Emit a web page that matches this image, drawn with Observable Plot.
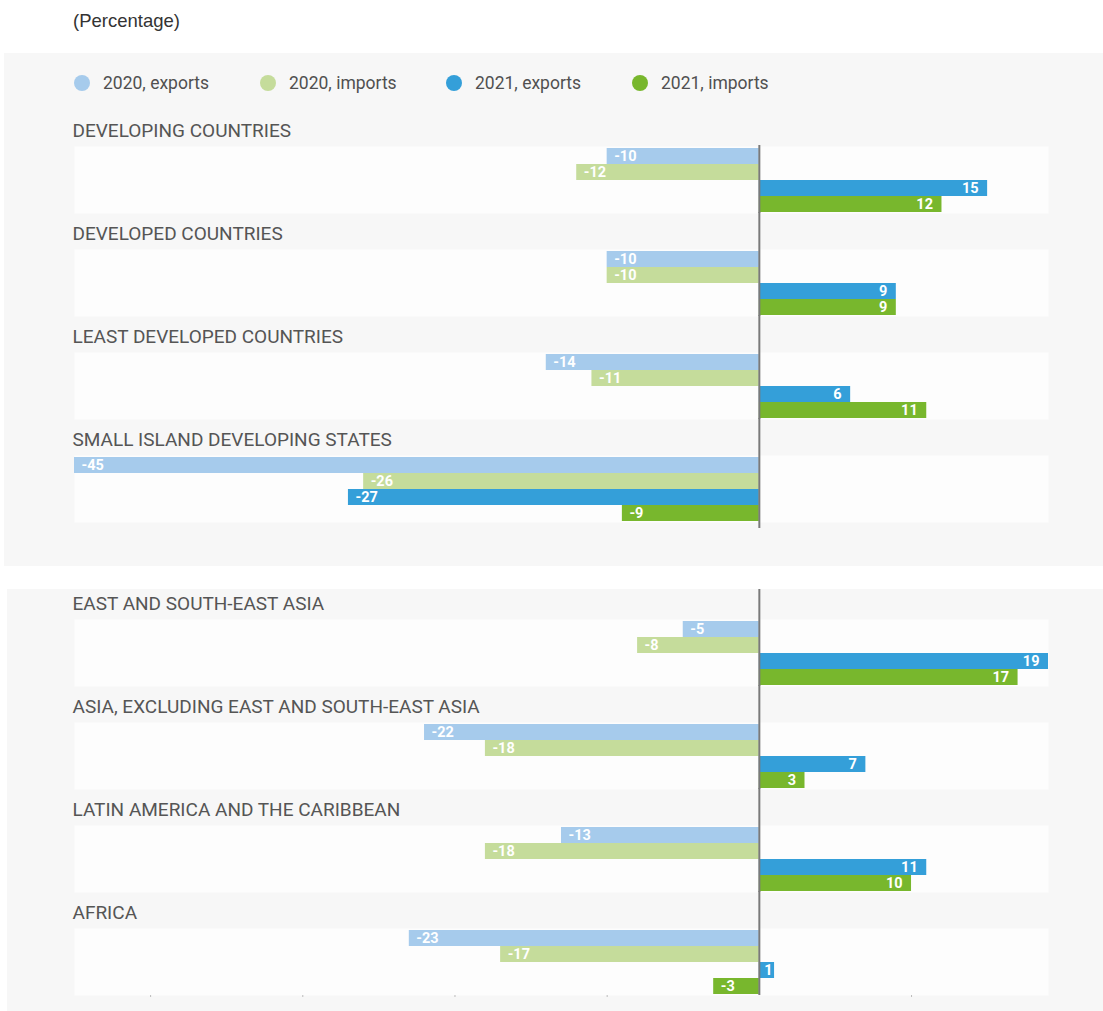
<!DOCTYPE html>
<html>
<head>
<meta charset="utf-8">
<script src="https://cdn.jsdelivr.net/npm/d3@7"></script>
<script src="https://cdn.jsdelivr.net/npm/@observablehq/plot@0.6"></script>
<style>
  body { margin: 0; background: #fff; }
  #root { position: relative; width: 1103px; height: 1011px; overflow: hidden; font-family: Roboto, sans-serif; }
  .panel { position: absolute; background: #f7f7f7; }
  .unit { position: absolute; left: 73px; top: 10px; font-family: "Liberation Sans", Arial, sans-serif; font-size: 18.5px; color: #333; }
  .legend-item { position: absolute; top: 72px; height: 22px; display: flex; align-items: center; font-size: 17.5px; color: #505050; white-space: nowrap; }
  .legend-item .dot { width: 16px; height: 16px; border-radius: 50%; margin-right: 13px; }
  .plotwrap { position: absolute; left: 0; }
</style>
</head>
<body>
<div id="root">
  <div class="panel" style="left:4px;top:53px;width:1099px;height:513px;"></div>
  <div class="panel" style="left:7px;top:589px;width:1096px;height:422px;"></div>
  <div class="unit">(Percentage)</div>
</div>
<script>
// Series (legend) and colours
const series = ["2020, exports", "2020, imports", "2021, exports", "2021, imports"];
const seriesColors = ["#a6cbec", "#c5dc9b", "#349fd9", "#78b72d"];

// Panel A: country groups
const groupsA = ["DEVELOPING COUNTRIES", "DEVELOPED COUNTRIES", "LEAST DEVELOPED COUNTRIES", "SMALL ISLAND DEVELOPING STATES"];
const exports2020A = [-10, -10, -14, -45];
const imports2020A = [-12, -10, -11, -26];
const exports2021A = [15, 9, 6, -27];
const imports2021A = [12, 9, 11, -9];

// Panel B: regions
const groupsB = ["EAST AND SOUTH-EAST ASIA", "ASIA, EXCLUDING EAST AND SOUTH-EAST ASIA", "LATIN AMERICA AND THE CARIBBEAN", "AFRICA"];
const exports2020B = [-5, -22, -13, -23];
const imports2020B = [-8, -18, -18, -17];
const exports2021B = [19, 7, 11, 1];
const imports2021B = [17, 3, 10, -3];

// Axis
const xDomain = [-45, 19];
const xTicks = [-40, -30, -20, -10, 10];

function rowsOf(groups, cols) {
  const rows = [];
  groups.forEach((g, i) => {
    cols.forEach((col, j) => rows.push({group: g, series: series[j], value: col[i]}));
  });
  return rows;
}

const root = document.getElementById("root");

// Legend
series.forEach((s, i) => {
  const item = document.createElement("div");
  item.className = "legend-item";
  item.style.left = (74 + i * 186) + "px";
  const dot = document.createElement("span");
  dot.className = "dot";
  dot.style.background = seriesColors[i];
  const lab = document.createElement("span");
  lab.textContent = s;
  item.appendChild(dot);
  item.appendChild(lab);
  root.appendChild(item);
});

function makePanel(groups, cols, cfg) {
  const rows = rowsOf(groups, cols);
  const first = groups[0], last = groups[groups.length - 1];
  const middle = groups.slice(1, -1);
  const big = rows.filter(d => d.value >= 2);
  const tiny = rows.filter(d => d.value >= 0 && d.value < 2);
  const labelStyle = {fill: "white", fontWeight: "bold", fontSize: 14.5};
  const marks = [
    Plot.frame({fill: "#fdfdfd", stroke: "none"}),
    Plot.barX(rows, {x: "value", y: "series", fy: "group", fill: "series"}),
    Plot.text(rows.filter(d => d.value < 0), {
      x: "value", y: "series", fy: "group", text: d => String(d.value),
      textAnchor: "start", dx: 7, ...labelStyle
    }),
    Plot.text(big, {
      x: "value", y: "series", fy: "group", text: d => String(d.value),
      textAnchor: "end", dx: -9, ...labelStyle
    }),
    Plot.text(tiny, {
      x: "value", y: "series", fy: "group", text: d => String(d.value),
      textAnchor: "end", dx: -2, ...labelStyle
    }),
    Plot.text(groups, {
      fy: d => d, text: d => d, frameAnchor: "top-left", textAnchor: "start",
      lineAnchor: "bottom", dy: -10, dx: -2, fill: "#555", fontSize: 19
    }),
    Plot.ruleX([first], {x: () => 0, fy: d => d, stroke: "#7a7a7a", strokeWidth: 2, insetTop: cfg.firstTop}),
    Plot.ruleX(middle, {x: () => 0, fy: d => d, stroke: "#7a7a7a", strokeWidth: 2, insetTop: -37}),
    Plot.ruleX([last], {x: () => 0, fy: d => d, stroke: "#7a7a7a", strokeWidth: 2, insetTop: -37, insetBottom: cfg.lastBottom})
  ];
  if (cfg.ticks) {
    marks.push(Plot.axisX({ticks: xTicks, tickSize: 2, tickFormat: () => "", stroke: "#bbb", label: null, facetAnchor: "bottom"}));
  }
  const plot = Plot.plot({
    width: 1103,
    height: cfg.height,
    marginLeft: 74,
    marginRight: 55,
    marginTop: 40,
    marginBottom: cfg.height - 40 - 377,
    style: {background: "none", fontFamily: "Roboto, sans-serif", overflow: "visible"},
    x: {domain: xDomain, axis: null},
    y: {domain: series, padding: 0, axis: null},
    fy: {domain: groups, padding: 0.353, axis: null},
    color: {domain: series, range: seriesColors},
    marks
  });
  const wrap = document.createElement("div");
  wrap.className = "plotwrap";
  wrap.style.top = cfg.top + "px";
  wrap.appendChild(plot);
  root.appendChild(wrap);
}

makePanel(groupsA, [exports2020A, imports2020A, exports2021A, imports2021A],
  {top: 105, height: 437, firstTop: -1, lastBottom: -6, ticks: false});
makePanel(groupsB, [exports2020B, imports2020B, exports2021B, imports2021B],
  {top: 578, height: 433, firstTop: -30, lastBottom: 0, ticks: true});
</script>
</body>
</html>
